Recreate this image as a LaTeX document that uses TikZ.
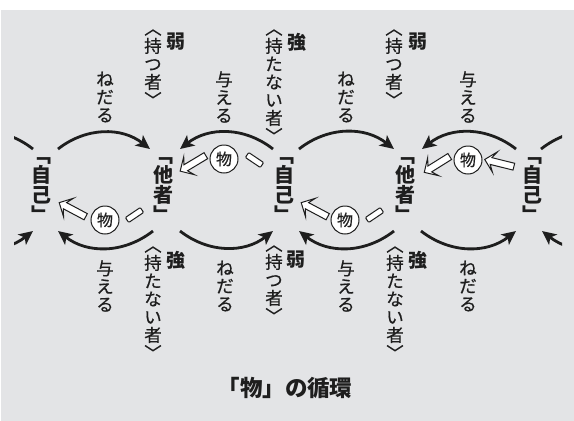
\documentclass[tikz,border=0pt]{standalone}
\usepackage{fontspec}
\newfontfamily\jp{Noto Sans CJK JP}
\newfontfamily\jpm{Noto Sans CJK JP}[FakeBold=0.6]
\usetikzlibrary{arrows.meta,shapes.arrows,calc}
\definecolor{bg}{RGB}{227,228,230}
\definecolor{ink}{RGB}{30,30,30}
\begin{document}
\begin{tikzpicture}[x=1pt,y=-1pt,
  vlab/.style={font=\jpm\fontsize{17.5}{18}\selectfont, align=center, inner sep=0pt, text=ink},
  strong/.style={font=\jp\bfseries\fontsize{19}{19}\selectfont, inner sep=0pt, text=ink},
  party/.style={font=\jp\bfseries\fontsize{20}{20}\selectfont, align=center, inner sep=0pt, text=ink},
  flow/.style={line width=2.8pt, draw=ink, -{Stealth[length=14pt,width=13pt,inset=3.5pt]}},
  thing/.style={circle, draw=ink, fill=white, line width=1pt, minimum size=28pt, inner sep=0pt, font=\jpm\fontsize{16}{16}\selectfont, text=ink},
  hollow/.style={single arrow, draw=ink, fill=white, line width=1pt, minimum height=30pt, inner sep=3pt, single arrow head extend=7pt, single arrow head indent=4pt},
  bar/.style={rectangle, draw=ink, fill=white, line width=1pt, minimum width=18pt, minimum height=6pt, inner sep=0pt, rounded corners=1pt},
  title/.style={font=\jp\bfseries\fontsize{22.5}{22.5}\selectfont, inner sep=0pt, text=ink}
]
\useasboundingbox (0,0) rectangle (574,421);
\fill[bg] (1,10) rectangle (574,421);

% parties
\node[party] (self1)  at (41,190)  {﹁\\自\\己\\﹂};
\node[party] (other1) at (163,190) {﹁\\他\\者\\﹂};
\node[party] (self2)  at (284,190) {﹁\\自\\己\\﹂};
\node[party] (other2) at (405,190) {﹁\\他\\者\\﹂};
\node[party] (self3)  at (532,190) {﹁\\自\\己\\﹂};
\coordinate (other0) at (-81,190);
\coordinate (other3) at (654,190);

% arcs
\draw[flow] ([shift={(17,-41)}]self1.center) to[bend left=38] ([shift={(-13,-41)}]other1.center);
\draw[flow] ([shift={(-11,-41)}]self2.center) to[bend right=38] ([shift={(17,-41)}]other1.center);
\draw[flow] ([shift={(15,-41)}]self2.center) to[bend left=38] ([shift={(-11,-41)}]other2.center);
\draw[flow] ([shift={(-16,-41)}]self3.center) to[bend right=38] ([shift={(17,-41)}]other2.center);
\draw[flow] ([shift={(-10,41)}]other1.center) to[bend left=38] ([shift={(17,41)}]self1.center);
\draw[flow] ([shift={(17,41)}]other1.center) to[bend right=38] ([shift={(-11,41)}]self2.center);
\draw[flow] ([shift={(-11,41)}]other2.center) to[bend left=38] ([shift={(15,41)}]self2.center);
\draw[flow] ([shift={(16,41)}]other2.center) to[bend right=38] ([shift={(-16,41)}]self3.center);
\begin{scope}
\clip (14,0) rectangle (562,421);
\draw[flow] ([shift={(-8,-41)}]self1.center) to[bend right=38] ([shift={(17,-41)}]other0);
\draw[flow] ([shift={(9,-41)}]self3.center) to[bend left=38] ([shift={(-13,-41)}]other3);
\draw[flow] ([shift={(16,41)}]other0) to[bend right=38] ([shift={(-8,41)}]self1.center);
\draw[flow] ([shift={(-11,41)}]other3) to[bend left=38] ([shift={(10,41)}]self3.center);
\end{scope}

% things moving
\node[thing] (t1) at (105,220) {物};
\node[hollow, rotate=152] (h1) at (74,210.5) {};
\node[bar, rotate=34] (b1) at (134.5,215) {};

\node[thing] (t2) at (224,159) {物};
\node[hollow, rotate=211] (h2) at (194.5,162.5) {};
\node[bar, rotate=-34] (b2) at (254.5,160) {};

\node[thing] (t3) at (345,220) {物};
\node[hollow, rotate=152] (h3) at (316,210.5) {};
\node[bar, rotate=34] (b3) at (374.5,215) {};

\node[thing] (t4) at (468,160) {物};
\node[hollow, rotate=212] (h4) at (438.5,163.5) {};
\node[hollow, rotate=166] (h5) at (501,163.5) {};

% top labels
\node[vlab] (n1) at (105,97) {ね\\だ\\る};
\node[vlab] (m1) at (153,68) {︿\\持\\つ\\者\\﹀};
\node[strong] (j1) at (176,42) {弱};
\node[vlab] (a1) at (224,97) {与\\え\\る};
\node[vlab] (mn1) at (274,86) {︿\\持\\た\\な\\い\\者\\﹀};
\node[strong] (k1) at (297,42) {強};
\node[vlab] (n2) at (346,97) {ね\\だ\\る};
\node[vlab] (m2) at (394,68) {︿\\持\\つ\\者\\﹀};
\node[strong] (j2) at (418,42) {弱};
\node[vlab] (a2) at (468,97) {与\\え\\る};

% bottom labels
\node[vlab] (a3) at (105,286) {与\\え\\る};
\node[vlab] (mn2) at (153,303) {︿\\持\\た\\な\\い\\者\\﹀};
\node[strong] (k2) at (176,260) {強};
\node[vlab] (n3) at (225,286) {ね\\だ\\る};
\node[vlab] (m3) at (274,284) {︿\\持\\つ\\者\\﹀};
\node[strong] (j3) at (296,260) {弱};
\node[vlab] (a4) at (346,286) {与\\え\\る};
\node[vlab] (mn3) at (395,303) {︿\\持\\た\\な\\い\\者\\﹀};
\node[strong] (k3) at (418,260) {強};
\node[vlab] (n4) at (468,286) {ね\\だ\\る};

\node[title] (ttl) at (285,388) {「物」の循環};
\end{tikzpicture}
\end{document}
